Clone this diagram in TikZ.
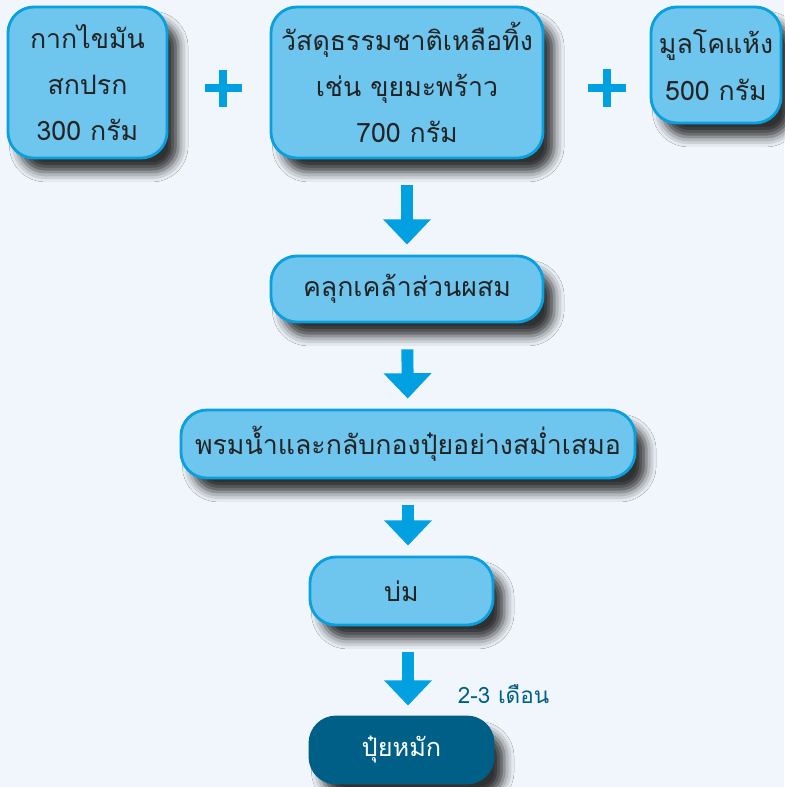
\documentclass[tikz,border=0pt]{standalone}
\usepackage{fontspec}
\newfontfamily\thaifont[Script=Thai]{Loma}
\usetikzlibrary{arrows.meta,shadows.blur}
\definecolor{bgpale}{RGB}{240,246,252}
\definecolor{boxfill}{RGB}{110,198,238}
\definecolor{boxline}{RGB}{10,160,222}
\definecolor{arrowblue}{RGB}{0,160,225}
\definecolor{darkteal}{RGB}{0,95,135}
\definecolor{inktext}{RGB}{35,35,35}
\begin{document}
\begin{tikzpicture}[x=0.025cm, y=-0.025cm]
    \tikzstyle{stepbox} = [draw=boxline, fill=boxfill, line width=2pt, rounded corners=0.65cm, align=center, inner sep=0pt, text=inktext, font=\thaifont\fontsize{19}{33}\selectfont, blur shadow={shadow xshift=8pt, shadow yshift=-10pt, shadow blur radius=7pt, shadow opacity=80}]
    \tikzstyle{endbox} = [stepbox, draw=darkteal, fill=darkteal, text=white, font=\thaifont\fontsize{18}{33}\selectfont]
    \tikzstyle{flow} = [draw=arrowblue, line width=8.5pt, -{Triangle[width=33pt, length=18pt]}, shorten <=0.65cm, shorten >=0.25cm]
    \tikzstyle{plus} = [draw=arrowblue, line width=5pt]
    \useasboundingbox[fill=bgpale] (0,0) rectangle (784,787);
    % ingredients
    \node[stepbox, minimum width=3.975cm, minimum height=3.775cm] (fat) at (87.5,82.5) {กากไขมัน\\สกปรก\\300 กรัม};
    \node[stepbox, minimum width=6.8cm, minimum height=3.775cm] (waste) at (407,82.5) {วัสดุธรรมชาติเหลือทิ้ง\\เช่น ขุยมะพร้าว\\700 กรัม};
    \node[stepbox, minimum width=3.25cm, minimum height=2.9cm] (dung) at (716,65) {มูลโคแห้ง\\500 กรัม};
    \draw[plus] (223,70) -- (223,107) (205,88) -- (242,88);
    \draw[plus] (607,69) -- (607,107) (588,88) -- (626,88);
    % steps
    \node[stepbox, minimum width=6.8cm, minimum height=1.65cm] (mix) at (407,289) {คลุกเคล้าส่วนผสม};
    \node[stepbox, minimum width=11.35cm, minimum height=1.7cm] (water) at (408,444) {พรมน้ำและกลับกองปุ๋ยอย่างสม่ำเสมอ};
    \node[stepbox, minimum width=4.575cm, minimum height=1.7cm] (cure) at (401.5,591) {บ่ม};
    \node[endbox, minimum width=4.575cm, minimum height=1.65cm] (compost) at (401.5,750) {ปุ๋ยหมัก};
    \draw[flow] (waste) -- (mix);
    \draw[flow] (mix) -- (water);
    \draw[flow] (water) -- (water |- cure.north);
    \draw[flow] (cure.south -| water) -- (compost.north -| water);
    \node[text=darkteal, font=\thaifont\fontsize{16}{18}\selectfont, anchor=west] (months) at (453,694) {2-3 เดือน};
\end{tikzpicture}
\end{document}
